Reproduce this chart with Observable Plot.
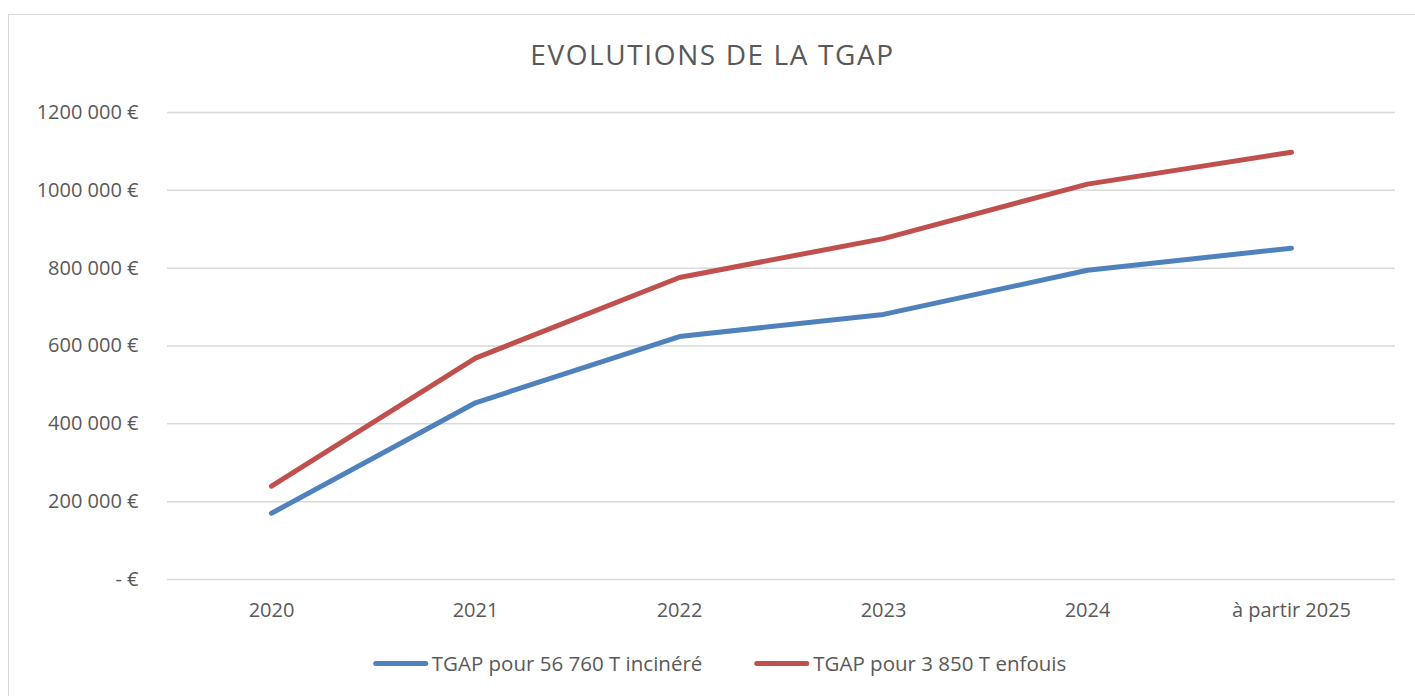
<!DOCTYPE html>
<html>
<head>
<meta charset="utf-8">
<script src="https://cdn.jsdelivr.net/npm/d3@7"></script>
<script src="https://cdn.jsdelivr.net/npm/@observablehq/plot@0.6"></script>
<style>
  html, body { margin: 0; padding: 0; background: #fff; overflow: hidden; width: 1415px; height: 696px; }
  body { font-family: "Open Sans", Lato, sans-serif; color: #595959; position: relative; }
  #frame { position: absolute; left: 8px; top: 14px; width: 1420px; height: 700px; border: 1px solid #d9d9d9; box-sizing: border-box; }
  #chart { position: absolute; left: 0; top: 0; }
  #title { position: absolute; left: 712.5px; top: 35px; transform: translateX(-50%); font-size: 28px; letter-spacing: 1.6px; line-height: 38px; white-space: nowrap; color: #595959; }
  #legend { position: absolute; left: 719.5px; top: 649px; transform: translateX(-50%); display: flex; align-items: center; white-space: nowrap; font-size: 20.5px; line-height: 28px; color: #595959; }
  .item { display: flex; align-items: center; }
  .item + .item { margin-left: 52px; }
  .swatch { width: 55px; height: 5px; border-radius: 3px; margin-right: 4px; }
</style>
</head>
<body>
<div id="frame"></div>
<div id="chart"></div>
<div id="title"></div>
<div id="legend"></div>
<script>
const titleText = "EVOLUTIONS DE LA TGAP";
const categories = ["2020", "2021", "2022", "2023", "2024", "à partir 2025"];
const seriesNames = ["TGAP pour 56 760 T incinéré", "TGAP pour 3 850 T enfouis"];
const seriesColors = ["#4F81BD", "#C0504D"];
const incinere = [170280, 454080, 624360, 681120, 794640, 851400];
const enfouis = [240000, 569000, 776000, 876000, 1016000, 1098000];
const yTicks = [0, 200000, 400000, 600000, 800000, 1000000, 1200000];
const yTickLabels = ["- €", "200 000 €", "400 000 €", "600 000 €", "800 000 €", "1000 000 €", "1200 000 €"];

const seriesValues = [incinere, enfouis];
const data = seriesNames.flatMap((name, s) =>
  categories.map((c, i) => ({ cat: c, value: seriesValues[s][i], series: name }))
);

const chart = Plot.plot({
  width: 1415,
  height: 696,
  marginLeft: 167,
  marginRight: 20,
  marginTop: 112,
  marginBottom: 117,
  style: { fontFamily: "'Open Sans', Lato, sans-serif", fontSize: "20px", color: "#595959", background: "transparent" },
  x: { type: "point", domain: categories, padding: 0.5, label: null },
  y: { domain: [0, 1200000], label: null },
  color: { domain: seriesNames, range: seriesColors },
  marks: [
    Plot.ruleY(yTicks, { stroke: "#d9d9d9", strokeWidth: 1.5 }),
    Plot.axisY(yTicks, {
      tickSize: 0,
      tickPadding: 29,
      tickFormat: (d) => yTickLabels[yTicks.indexOf(d)],
      fill: "#595959",
      label: null
    }),
    Plot.axisX({ tickSize: 0, tickPadding: 23, fill: "#595959", label: null }),
    Plot.lineY(data, {
      x: "cat",
      y: "value",
      z: "series",
      stroke: "series",
      strokeWidth: 5,
      strokeLinecap: "round",
      strokeLinejoin: "round"
    })
  ]
});
document.getElementById("chart").appendChild(chart);

document.getElementById("title").textContent = titleText;
const legend = document.getElementById("legend");
seriesNames.forEach((name, i) => {
  const item = document.createElement("div");
  item.className = "item";
  const sw = document.createElement("div");
  sw.className = "swatch";
  sw.style.background = seriesColors[i];
  const label = document.createElement("span");
  label.textContent = name;
  item.appendChild(sw);
  item.appendChild(label);
  legend.appendChild(item);
});
</script>
</body>
</html>
